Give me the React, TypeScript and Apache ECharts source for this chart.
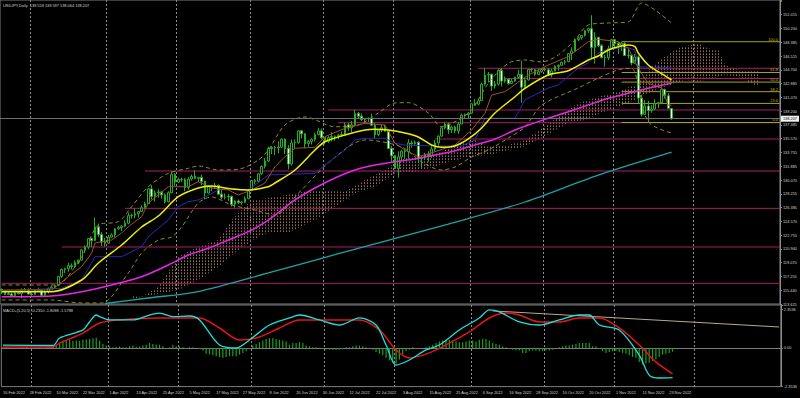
import React, { useEffect, useRef } from 'react';
import * as echarts from 'echarts';

const symbolTitle = 'USDJPY,Daily';
const macdTitle = 'MACD+(5,20,5)';
const macdLastValues = [-0.231, -1.8098, -1.5788];

// candles: [open, close, low, high], one per trading day from 16 Feb 2022
const candles: number[][] = [
  [115.55,115.45,114.95,115.70],[115.45,114.90,114.80,115.50],[114.90,115.00,114.80,115.25],[114.95,114.75,114.70,115.15],
  [114.75,115.10,114.55,115.30],[115.10,115.00,114.90,115.25],[115.00,115.50,114.40,115.70],[115.50,115.55,115.20,115.75],
  [115.40,114.95,114.85,115.70],[114.95,114.90,114.70,115.15],[114.90,115.50,114.80,115.55],[115.50,115.45,115.35,115.80],
  [115.45,114.80,114.65,115.55],[114.80,115.30,114.70,115.45],[115.30,115.70,115.00,115.80],[115.70,115.85,115.60,116.10],
  [115.85,116.10,115.70,116.20],[116.10,117.30,116.00,117.35],[117.30,118.20,117.10,118.35],[118.20,118.30,117.70,118.45],
  [118.30,118.70,117.90,119.10],[118.70,118.60,118.20,119.00],[118.60,119.15,118.45,119.40],[119.15,119.45,118.90,119.50],
  [119.45,120.80,119.40,120.95],[120.80,121.20,120.40,121.40],[121.20,122.30,120.90,122.40],[122.30,122.05,121.20,122.45],
  [122.05,123.85,121.95,125.10],[123.85,122.85,122.50,124.30],[122.85,121.85,121.30,123.15],[121.85,121.70,121.25,122.40],
  [121.70,122.50,121.60,122.80],[122.50,122.80,122.40,123.00],[122.80,123.60,122.45,123.70],[123.60,123.75,123.50,123.95],
  [123.75,123.95,123.30,124.10],[123.95,124.35,123.80,124.70],[124.35,125.35,124.20,125.75],[125.35,125.40,124.95,125.60],
  [125.40,125.60,125.00,126.30],[125.60,125.90,125.10,125.95],[125.90,126.40,125.80,126.70],[126.40,126.95,126.30,127.20],
  [126.95,128.90,126.90,129.00],[128.90,127.90,127.50,129.40],[127.90,128.40,127.20,128.70],[128.40,128.50,127.75,128.85],
  [128.50,128.10,127.60,128.60],[128.10,127.20,126.95,128.30],[127.20,128.40,127.10,128.60],[128.40,130.80,128.30,131.25],
  [130.80,129.80,129.30,131.00],[129.80,130.15,129.70,130.40],[130.15,130.10,129.80,130.40],[130.10,129.10,128.60,130.35],
  [129.10,130.20,128.80,130.45],[130.20,130.55,130.00,130.80],[130.55,130.30,130.20,131.35],[130.30,130.40,129.80,130.50],
  [130.40,129.90,129.40,130.80],[129.90,128.35,127.50,130.00],[128.35,129.20,128.30,129.40],[129.20,129.15,128.60,129.40],
  [129.15,129.35,128.90,129.70],[129.35,128.20,128.10,129.50],[128.20,127.80,127.50,128.80],[127.80,127.85,127.50,128.30],
  [127.85,127.90,127.30,128.20],[127.90,126.85,126.55,128.00],[126.85,127.30,126.40,127.40],[127.30,127.10,126.90,127.50],
  [127.10,127.15,126.80,127.30],[127.10,127.60,127.00,127.90],[127.60,128.70,127.50,128.90],[128.70,130.00,128.60,130.10],
  [130.00,129.90,129.50,130.20],[129.90,130.90,129.80,131.00],[130.90,131.90,130.80,132.00],[131.90,132.60,131.60,133.00],
  [132.60,134.25,132.50,134.50],[134.25,134.40,133.50,134.55],[134.40,134.35,133.40,134.60],[134.35,134.45,133.60,135.20],
  [134.45,135.50,134.30,135.60],[135.50,134.25,133.50,135.60],[134.25,132.20,131.50,134.70],[132.20,135.00,132.00,135.45],
  [135.00,135.05,134.30,135.45],[135.05,136.60,134.90,136.70],[136.60,136.20,135.60,136.70],[136.20,134.90,134.30,136.30],
  [134.90,135.20,134.50,135.40],[135.20,135.45,134.80,135.60],[135.45,136.10,135.20,136.35],[136.10,136.60,136.00,137.00],
  [136.60,135.70,135.50,136.90],[135.70,135.20,134.80,135.80],[135.20,135.70,135.00,135.90],[135.70,135.85,135.20,136.40],
  [135.85,135.90,135.30,136.00],[135.90,136.00,135.50,136.20],[136.00,136.10,135.80,136.50],[136.10,137.40,136.00,137.70],
  [137.40,137.00,136.60,137.70],[137.00,137.40,136.40,137.90],[137.40,138.90,137.20,139.40],[138.90,138.55,138.30,139.10],
  [138.55,138.10,137.90,138.90],[138.10,138.20,137.50,138.30],[138.20,138.25,137.80,138.40],[138.25,137.35,137.30,138.90],
  [137.35,136.10,135.60,137.60],[136.10,136.70,135.90,136.80],[136.70,137.00,136.40,137.40],[137.00,136.55,136.50,137.40],
  [136.55,134.25,134.20,136.60],[134.25,133.30,132.50,134.60],[133.30,131.60,131.55,133.40],[131.60,133.15,130.40,133.90],
  [133.15,133.90,132.70,134.10],[133.90,133.85,132.90,134.20],[133.85,135.00,132.90,135.50],[135.00,134.90,134.40,135.30],
  [134.90,135.10,134.60,135.30],[135.10,132.90,132.30,135.20],[132.90,133.00,131.70,133.30],[133.00,133.45,132.70,133.70],
  [133.45,133.30,132.50,133.90],[133.30,134.20,133.00,134.60],[134.20,135.00,133.90,135.40],[135.00,135.90,134.60,136.00],
  [135.90,137.00,135.80,137.20],[137.00,137.50,136.80,137.70],[137.50,136.75,136.20,137.70],[136.75,137.10,136.30,137.30],
  [137.10,136.60,136.30,137.30],[136.60,137.50,136.20,137.80],[137.50,138.70,137.50,138.90],[138.70,138.75,138.20,138.90],
  [138.75,138.95,138.20,139.10],[138.95,140.20,138.90,140.25],[140.20,140.15,139.90,140.80],[140.15,140.60,140.00,140.90],
  [140.60,142.80,140.60,143.00],[142.80,144.00,142.60,144.95],[144.00,144.10,143.00,144.40],[144.10,142.55,141.90,144.20],
  [142.55,142.80,142.20,143.20],[142.80,144.60,142.60,144.90],[144.60,143.20,142.50,144.95],[143.20,143.45,143.00,143.80],
  [143.45,142.90,142.70,143.60],[142.90,143.20,142.80,143.50],[143.20,143.70,143.10,143.80],[143.70,144.10,143.50,144.70],
  [144.10,142.40,140.35,145.90],[142.40,143.35,142.20,143.60],[143.35,144.75,143.30,144.80],[144.75,144.70,144.40,144.90],
  [144.70,144.10,143.90,144.80],[144.10,144.45,144.00,144.85],[144.45,144.75,144.30,144.90],[144.75,144.70,144.50,145.00],
  [144.70,144.05,143.90,144.90],[144.05,144.55,143.70,144.80],[144.55,145.15,144.50,145.30],[145.15,145.30,144.60,145.40],
  [145.30,145.70,145.20,145.80],[145.70,145.80,145.40,146.00],[145.80,146.85,145.70,146.90],[146.85,147.20,146.00,147.70],
  [147.20,148.70,147.10,148.85],[148.70,148.95,148.50,149.10],[148.95,149.25,148.70,149.30],[149.25,149.90,149.10,149.95],
  [149.90,150.15,149.60,150.30],[150.15,147.65,146.25,151.95],[147.65,149.00,145.50,149.70],[149.00,147.90,147.70,149.10],
  [147.90,146.35,146.20,148.10],[146.35,146.30,145.10,146.70],[146.30,147.50,146.00,147.90],[147.50,148.70,147.40,148.80],
  [148.70,148.20,147.50,148.80],[148.20,147.95,146.80,148.40],[147.95,148.20,147.20,148.45],[148.20,146.60,146.55,148.40],
  [146.60,146.65,146.20,147.50],[146.65,145.60,145.30,146.70],[145.60,146.40,145.50,146.80],[146.40,140.95,140.20,146.60],
  [140.95,138.80,138.50,141.40],[138.80,139.90,138.70,140.70],[139.90,139.30,137.70,140.60],[139.30,139.50,139.00,140.00],
  [139.50,140.20,139.40,140.80],[140.20,140.35,139.60,140.45],[140.35,142.10,140.30,142.25],[142.10,141.25,140.90,142.20],
  [141.25,139.60,139.50,141.60],[139.559,138.207,138.064,139.597],
];

// right price scale tick labels (bottom to top)
const priceTickLabels = ['113.625','115.440','117.255','119.070','120.940','122.755','124.570','126.385','128.255','130.070','131.885',
  '133.755','135.570','137.385','139.200','141.070','142.885','144.700','146.515','148.385','150.200','152.015'];
const priceMin = 113.625;
const priceMax = 153.964;
const priceStep = 1.828;

// indicator lines: [bar index, value]
const ma20Line = [[0,115.26],[15,115.26],[24,116.81],[29,119.06],[36,121.45],[42,123.84],[47,125.30],[53,127.86],[59,129.02],[63,129.28],[69,128.89],[74,128.75],[80,129.19],[82,129.68],[88,131.41],[94,134.06],[97,135.16],[103,136.05],[109,136.71],[112,136.81],[116,136.71],[121,136.32],[125,135.79],[129,134.72],[132,134.42],[136,134.59],[140,135.52],[144,136.98],[148,138.97],[154,141.13],[157,142.25],[164,144.01],[170,144.58],[176,146.00],[179,146.53],[182,147.33],[185,147.77],[188,147.99],[190,147.77],[191,146.93],[194,145.34],[197,144.45],[201,143.35]];
const maMagentaLine = [[0,114.59],[15,114.69],[24,115.26],[33,116.15],[42,117.25],[50,118.80],[56,120.13],[62,121.02],[68,122.12],[74,123.22],[80,124.77],[88,127.43],[94,129.02],[100,130.35],[106,131.41],[112,132.07],[118,132.51],[124,132.87],[130,133.40],[136,133.97],[142,134.72],[148,135.52],[154,136.71],[158,137.38],[164,138.27],[170,139.14],[176,140.03],[182,140.92],[188,141.58],[194,142.25],[201,142.91]];
const maTealLine = [[31,113.69],[44,114.42],[59,115.28],[80,117.74],[105,120.79],[134,124.24],[157,127.16],[179,130.74],[201,133.79]];
const tenkanLine = [[0,115.48],[15,115.48],[20,117.25],[24,118.57],[27,120.39],[28,121.72],[33,122.12],[36,123.05],[38,123.88],[42,125.21],[44,127.03],[47,128.09],[50,129.19],[56,129.19],[59,129.85],[63,129.02],[68,128.75],[71,128.09],[75,128.75],[79,129.68],[82,131.84],[85,133.17],[88,134.29],[94,134.42],[97,135.83],[103,136.94],[109,137.60],[115,137.38],[118,134.95],[121,134.06],[125,133.17],[130,133.83],[136,134.72],[141,136.71],[145,138.93],[147,141.36],[151,141.80],[158,144.01],[164,145.34],[170,146.44],[176,148.43],[179,148.75],[185,148.43],[188,147.56],[191,144.9],[194,142.9],[198,142.3],[200,140.0],[201,140.0]];
const kijunLine = [[0,115.40],[18,115.71],[24,116.81],[28,119.90],[36,119.90],[42,121.23],[44,122.56],[50,124.77],[53,126.54],[56,127.20],[59,127.43],[65,128.75],[69,128.98],[74,128.75],[80,130.74],[94,130.96],[97,132.07],[103,134.06],[106,135.39],[109,135.61],[115,135.61],[118,134.95],[121,134.72],[130,134.59],[138,134.59],[142,135.39],[145,138.27],[154,138.27],[157,140.70],[164,142.29],[167,142.69],[173,144.94],[176,145.61],[179,146.93],[182,147.46],[188,147.64],[190,147.33],[191,145.11],[201,144.94]];
const bandUpper = [[0,116.15],[15,116.15],[18,116.4],[24,119.90],[29,124.11],[35,124.55],[39,126.54],[44,129.19],[50,130.96],[56,131.63],[59,131.94],[65,131.41],[71,131.50],[77,132.73],[80,134.06],[85,137.38],[91,138.44],[100,137.15],[107,137.38],[113,138.97],[118,140.30],[122,140.34],[128,138.97],[132,137.15],[136,137.81],[141,139.37],[146,142.91],[152,145.57],[157,146.00],[162,145.74],[167,146.67],[172,148.66],[176,150.65],[182,150.91],[188,151.05],[192,153.57],[196,152.64],[201,150.91]];
const bandLower = [[0,114.16],[15,114.16],[24,113.76],[30,113.76],[38,117.74],[42,120.39],[47,122.12],[51,122.52],[54,123.84],[59,127.03],[63,127.82],[69,126.76],[76,126.10],[82,125.43],[89,128.32],[99,132.73],[109,135.39],[120,134.46],[126,132.47],[132,131.41],[136,131.80],[141,133.13],[146,134.06],[152,135.65],[157,137.11],[162,140.0],[173,142.3],[179,143.6],[185,144.7],[189,144.9],[191,142.7],[194,137.8],[201,136.3]];
const cloudTop = [[39,114.69],[42,114.59],[47,115.92],[53,119.90],[59,121.23],[65,122.12],[69,124.77],[75,127.43],[80,127.69],[91,128.53],[97,128.75],[103,128.53],[109,130.08],[115,131.41],[118,132.33],[122,133.17],[128,133.17],[132,133.83],[136,134.72],[140,135.16],[142,135.39],[146,134.50],[152,134.72],[157,135.39],[170,139.37],[173,140.30],[179,141.13],[185,141.80],[191,142.95],[195,145.11],[199,146.44],[203,147.60],[209,148.22],[212,147.56],[215,147.33],[217,145.34],[221,144.68],[227,144.68]];
const cloudBottom = [[39,114.3],[53,115.48],[59,116.81],[65,118.57],[71,120.79],[77,122.56],[80,123.05],[86,123.05],[94,124.77],[100,126.54],[106,128.32],[112,129.19],[118,130.96],[124,131.18],[130,131.84],[136,132.73],[141,133.17],[146,133.40],[152,134.06],[157,134.50],[170,137.64],[175,138.04],[182,139.37],[188,140.30],[194,141.62],[199,142.46],[205,143.35],[209,143.12],[217,144.01],[221,143.79],[227,142.46]];

// horizontal levels: start bar and price
const levelStart = [0, 18, 37, 43, 130, 101, 98, 151, 143];
const levelPrice = [116.37, 121.19, 126.32, 131.27, 135.52, 137.68, 139.37, 143.55, 144.90];

// Fibonacci retracement
const fibStart = 186;
const fibLabels = ['0.0', '23.6', '38.2', '50.0', '61.8', '100.0'];
const fibPrices = [137.71, 140.24, 141.80, 143.07, 144.34, 148.43];

// MACD panel
const macdLine = [[0,0.18],[15,0.15],[17,0.61],[24,1.10],[26,1.60],[28,2.01],[29,1.91],[32,1.71],[39,1.71],[44,2.01],[47,2.12],[51,1.91],[56,1.95],[59,1.71],[65,0.18],[70,0],[74,0.49],[80,1.40],[86,1.83],[89,2.01],[95,1.71],[101,1.40],[107,1.83],[112,1.40],[115,0.18],[118,-1.04],[122,-0.73],[127,-0.12],[131,0.18],[137,1.10],[143,1.83],[146,2.32],[149,2.20],[155,1.59],[161,1.40],[167,1.71],[173,2.01],[176,2.01],[179,1.40],[185,1.10],[191,-0.43],[194,-1.65],[197,-1.83],[201,-1.81]];
const signalLine = [[0,0.06],[15,0.06],[17,0.30],[24,0.91],[29,1.52],[35,1.71],[47,1.83],[59,1.83],[65,1.22],[71,0.49],[77,0.67],[83,1.22],[89,1.71],[98,1.71],[107,1.71],[113,1.10],[118,-0.12],[122,-0.61],[128,-0.30],[134,0.30],[140,0.98],[146,1.83],[151,2.13],[155,2.01],[161,1.59],[167,1.59],[173,1.83],[179,1.83],[185,1.22],[191,0.18],[196,-0.85],[201,-1.58]];
const macdHist = [
  0.05,0.04,0.02,-0.02,0.0,0.01,0.05,0.06,-0.03,-0.05,0.02,0.03,-0.04,0.02,0.06,
  0.08,0.15,0.3,0.42,0.45,0.48,0.42,0.45,0.44,0.5,0.52,0.55,0.6,0.62,0.45,0.25,
  0.15,0.1,0.05,0.08,0.1,0.05,0.05,0.12,0.15,0.08,0.1,0.15,0.2,0.3,0.25,
  0.22,0.2,0.1,0.0,0.05,0.2,0.1,0.1,0.05,-0.05,0.05,0.05,0.0,-0.05,-0.15,
  -0.35,-0.4,-0.45,-0.5,-0.55,-0.6,-0.55,-0.5,-0.5,-0.5,-0.4,-0.3,-0.2,-0.05,0.15,
  0.25,0.35,0.45,0.55,0.6,0.6,0.55,0.5,0.45,0.4,0.2,0.3,0.3,0.35,0.3,
  0.15,0.1,0.05,0.05,0.0,-0.05,-0.1,-0.1,-0.1,-0.1,-0.1,-0.05,0.05,0.05,0.1,
  0.15,0.15,0.1,0.05,0.0,-0.1,-0.25,-0.35,-0.45,-0.6,-0.75,-0.9,-0.95,-0.7,-0.4,
  -0.2,-0.1,0.05,-0.05,-0.05,0.0,0.05,0.1,0.2,0.3,0.4,0.45,0.5,0.5,0.45,
  0.4,0.35,0.35,0.4,0.45,0.45,0.4,0.5,0.55,0.55,0.45,0.3,0.25,0.2,0.1,
  0.05,-0.05,-0.1,-0.15,-0.15,-0.3,-0.3,-0.2,-0.15,-0.15,-0.2,-0.2,-0.15,-0.15,-0.1,
  0.0,0.05,0.1,0.15,0.15,0.2,0.25,0.3,0.3,0.3,0.3,0.1,0.1,-0.05,-0.2,
  -0.3,-0.25,-0.2,-0.2,-0.25,-0.3,-0.35,-0.45,-0.55,-0.6,-0.85,-1.0,-0.95,-0.9,-0.8,
  -0.7,-0.55,-0.4,-0.35,-0.3,-0.23,
];
const macdTrend = [[147, 2.26], [233, 1.28]];
const macdTickValue = 2.3536;
const macdMax = 2.62;

const SLOT_COUNT = 234;
const FUTURE_GRID_BAR = 208;
const MONTHS = ['Jan','Feb','Mar','Apr','May','Jun','Jul','Aug','Sep','Oct','Nov','Dec'];

function buildDates(n: number): Date[] {
  const out: Date[] = [];
  const d = new Date(Date.UTC(2022, 1, 16));
  while (out.length < n) {
    const wd = d.getUTCDay();
    if (wd !== 0 && wd !== 6) out.push(new Date(d.getTime()));
    d.setUTCDate(d.getUTCDate() + 1);
  }
  return out;
}

const FONT = 'Liberation Sans';
const TXT = '#d2d2d2';
const FS = 3.9;

function buildOption(pattern: any) {
  const dates = buildDates(SLOT_COUNT);
  const categories = dates.map((d) => `${d.getUTCDate()} ${MONTHS[d.getUTCMonth()]} ${d.getUTCFullYear()}`);
  const sep = new Set<number>();
  for (let i = 1; i < candles.length; i++) {
    if (dates[i].getUTCMonth() !== dates[i - 1].getUTCMonth()) sep.add(i);
  }
  sep.add(FUTURE_GRID_BAR);
  const last = candles[candles.length - 1];
  const header = `${symbolTitle}  ${last[0].toFixed(3)} ${last[3].toFixed(3)} ${last[2].toFixed(3)} ${last[1].toFixed(3)}`;
  const macdHeader = `${macdTitle} ${macdLastValues.map((v) => v.toFixed(4)).join(' ')}`;

  const splitLine = { show: true, interval: (i: number) => sep.has(i), lineStyle: { color: '#8c8c8c', type: [2, 2], width: 1 } };

  const lineSeries = (data: number[][], color: string, width: number, opts: any = {}) => ({
    type: 'line', xAxisIndex: 0, yAxisIndex: 0, data, showSymbol: false, symbol: 'none', silent: true,
    lineStyle: { color, width, ...(opts.dash ? { type: opts.dash } : {}) }, smooth: opts.smooth ?? 0, z: opts.z ?? 4,
  });

  return {
    backgroundColor: '#000000',
    animation: false,
    textStyle: { fontFamily: FONT },
    grid: [
      { left: 0, right: 19, top: 0, height: 304, show: true, borderColor: '#7c7c7c', borderWidth: 1 },
      { left: 0, right: 19, top: 305, height: 81.6, show: true, borderColor: '#7c7c7c', borderWidth: 1 },
    ],
    xAxis: [
      { type: 'category', gridIndex: 0, data: categories, boundaryGap: true, axisLine: { show: false }, axisTick: { show: false }, axisLabel: { show: false }, splitLine },
      { type: 'category', gridIndex: 1, data: categories, boundaryGap: true, axisLine: { show: true, lineStyle: { color: '#7c7c7c' } }, axisTick: { show: false },
        axisLabel: { show: true, interval: (i: number) => i % 8 === 0 && i < candles.length - 1, align: 'left', color: TXT, fontSize: FS, fontFamily: FONT, margin: 4 }, splitLine },
    ],
    yAxis: [
      { type: 'value', gridIndex: 0, position: 'right', min: priceMin, max: priceMax, interval: priceStep, scale: true,
        axisLine: { show: true, lineStyle: { color: '#8c8c8c' } }, axisTick: { show: true, length: 2, lineStyle: { color: '#8c8c8c' } }, splitLine: { show: false },
        axisLabel: { color: TXT, fontSize: FS, fontFamily: FONT, margin: 3, showMaxLabel: true, showMinLabel: true,
          formatter: (v: number) => {
            const k = Math.round((v - priceMin) / priceStep);
            if (k < 0 || k >= priceTickLabels.length || Math.abs(v - (priceMin + k * priceStep)) > 0.01) return '';
            return priceTickLabels[k];
          } } },
      { type: 'value', gridIndex: 1, position: 'right', min: -macdTickValue, max: macdMax, interval: macdTickValue,
        axisLine: { show: true, lineStyle: { color: '#8c8c8c' } }, axisTick: { show: true, length: 2, lineStyle: { color: '#8c8c8c' } }, splitLine: { show: false },
        axisLabel: { color: TXT, fontSize: FS, fontFamily: FONT, margin: 3,
          formatter: (v: number) => {
            if (Math.abs(v) < 1e-6) return '0.00';
            if (Math.abs(Math.abs(v) - macdTickValue) < 1e-4) return v.toFixed(4);
            return '';
          } } },
    ],
    graphic: [
      { type: 'text', left: 3, top: 3, style: { text: header, fill: TXT, font: `${FS}px ${FONT}` } },
      { type: 'text', left: 3, top: 308, style: { text: macdHeader, fill: TXT, font: `${FS}px ${FONT}` } },
    ],
    series: [
      {
        type: 'custom', xAxisIndex: 0, yAxisIndex: 0, silent: true, z: 1, data: [[0, 0]],
        renderItem: (params: any, api: any) => {
          const pts = cloudTop.map((p) => api.coord(p)).concat(cloudBottom.slice().reverse().map((p) => api.coord(p)));
          return { type: 'polygon', shape: { points: pts }, style: { fill: pattern, stroke: null } };
        },
      },
      {
        type: 'custom', xAxisIndex: 0, yAxisIndex: 0, silent: true, z: 2,
        data: levelStart.map((s, i) => [s, levelPrice[i]]),
        renderItem: (params: any, api: any) => {
          const p = api.coord([api.value(0), api.value(1)]);
          const cs = params.coordSys;
          return { type: 'line', shape: { x1: p[0], y1: p[1], x2: cs.x + cs.width, y2: p[1] }, style: { stroke: '#a81f66', lineWidth: 1 } };
        },
      },
      {
        type: 'custom', xAxisIndex: 0, yAxisIndex: 0, silent: true, z: 2,
        data: fibPrices.map((v) => [fibStart, v]),
        renderItem: (params: any, api: any) => {
          const p = api.coord([api.value(0), api.value(1)]);
          const cs = params.coordSys;
          const right = cs.x + cs.width;
          return {
            type: 'group',
            children: [
              { type: 'line', shape: { x1: p[0], y1: p[1], x2: right, y2: p[1] }, style: { stroke: '#a6a21c', lineWidth: 1 } },
              { type: 'text', x: right - 2, y: p[1] - 0.6, style: { text: fibLabels[params.dataIndex], fill: '#b8b420', font: `${FS}px ${FONT}`, textAlign: 'right', textVerticalAlign: 'bottom' } },
            ],
          };
        },
      },
      lineSeries(maTealLine, '#1fa3a3', 1.3, { smooth: 0.3 }),
      lineSeries(bandUpper, '#8f8c1e', 1, { dash: [4, 3], smooth: 0.3 }),
      lineSeries(bandLower, '#8f8c1e', 1, { dash: [4, 3], smooth: 0.3 }),
      lineSeries(kijunLine, '#2a2ab4', 1),
      lineSeries(tenkanLine, '#9a5528', 1),
      lineSeries(maMagentaLine, '#e626e6', 1.5, { smooth: 0.3, z: 5 }),
      {
        type: 'candlestick', xAxisIndex: 0, yAxisIndex: 0, data: candles, barWidth: 2.4, z: 3, silent: true,
        itemStyle: { color: '#000000', color0: '#ffffff', borderColor: '#25ad25', borderColor0: '#25ad25', borderWidth: 1 },
        markLine: {
          silent: true, symbol: 'none', animation: false,
          data: [{ yAxis: last[1] }],
          lineStyle: { color: '#6e6e6e', type: 'solid', width: 1 },
          label: { show: true, position: 'end', distance: 1, formatter: () => last[1].toFixed(3), color: '#000000', backgroundColor: '#f2f2f2',
            fontSize: FS, fontFamily: FONT, padding: [1, 2, 1, 2] },
        },
      },
      lineSeries(ma20Line, '#f2f000', 1.5, { smooth: 0.3, z: 6 }),
      {
        type: 'bar', xAxisIndex: 1, yAxisIndex: 1, data: macdHist, barWidth: 1.2, silent: true,
        itemStyle: { color: '#1f9e1f' },
      },
      { type: 'line', xAxisIndex: 1, yAxisIndex: 1, data: macdTrend, showSymbol: false, symbol: 'none', silent: true, lineStyle: { color: '#b9a98c', width: 1 } },
      { type: 'line', xAxisIndex: 1, yAxisIndex: 1, data: signalLine, showSymbol: false, symbol: 'none', silent: true, smooth: 0.3, lineStyle: { color: '#e31515', width: 1.5 } },
      { type: 'line', xAxisIndex: 1, yAxisIndex: 1, data: macdLine, showSymbol: false, symbol: 'none', silent: true, smooth: 0.3, lineStyle: { color: '#22dede', width: 1.3 } },
    ],
  };
}

function makePattern() {
  const c = document.createElement('canvas');
  c.width = 3;
  c.height = 3;
  const g = c.getContext('2d');
  if (g) {
    g.fillStyle = 'rgb(150,104,78)';
    g.fillRect(1, 0, 1, 1);
    g.fillStyle = 'rgb(95,70,58)';
    g.fillRect(1, 2, 1, 1);
  }
  return { image: c.toDataURL(), repeat: 'repeat', imageWidth: 3, imageHeight: 3 };
}

export default function App() {
  const ref = useRef<HTMLDivElement>(null);
  useEffect(() => {
    if (!ref.current) return;
    const chart = echarts.init(ref.current, null, { renderer: 'svg' });
    chart.setOption(buildOption(makePattern()) as any);
    return () => chart.dispose();
  }, []);
  return <div ref={ref} style={{ position: 'absolute', left: 0, top: 0, width: 800, height: 398, background: '#000' }} />;
}
